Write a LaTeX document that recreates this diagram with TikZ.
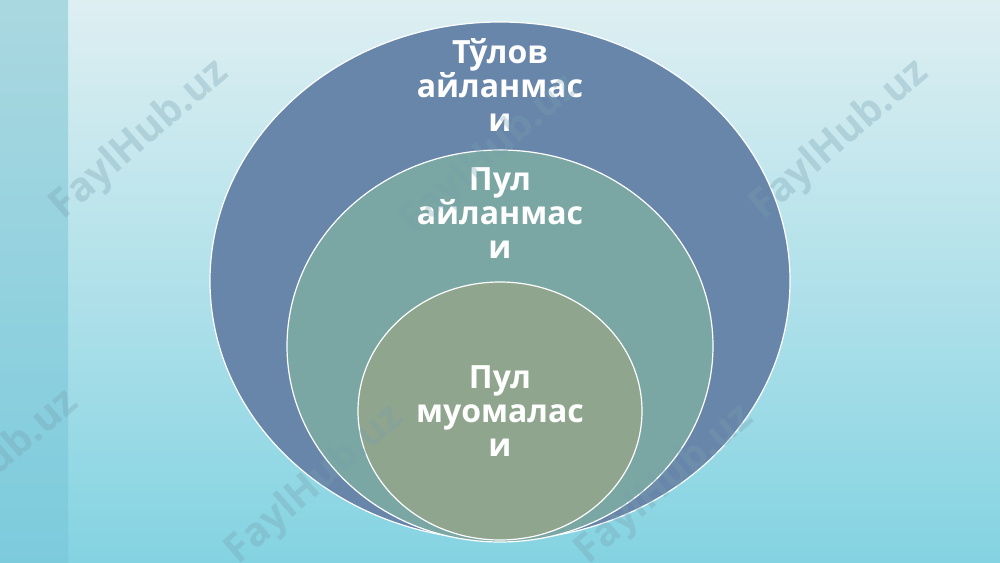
\documentclass[tikz,border=0pt]{standalone}
\usepackage{fontspec}
\setmainfont{Open Sans}

\definecolor{bgtop}{RGB}{222,239,242}
\definecolor{bgbot}{RGB}{132,211,226}
\definecolor{striptop}{RGB}{170,216,224}
\definecolor{stripbot}{RGB}{124,203,221}
\definecolor{outerfill}{RGB}{104,134,170}
\definecolor{midfill}{RGB}{122,167,163}
\definecolor{innerfill}{RGB}{143,165,142}
\definecolor{wmark}{RGB}{120,160,175}

\tikzset{every picture/.style={line width=0.75pt}}
\tikzset{
  ring/.style={draw=white, line width=0.9pt},
  label/.style={inner sep=0.75pt, align=center, text=white,
    font=\bfseries\fontsize{24}{25.5}\selectfont},
  wm/.style={rotate=41, text=wmark, opacity=0.32,
    font=\bfseries\fontsize{30}{30}\selectfont}
}

\begin{document}
\begin{tikzpicture}[x=0.75pt,y=0.75pt,yscale=-1,xscale=1]
\useasboundingbox (0,0) rectangle (1000,563);

%Background
\shade [top color=bgtop, bottom color=bgbot] (0,0) rectangle (1000,563);
%Left strip
\shade [top color=striptop, bottom color=stripbot] (0,0) rectangle (68,563);

%Shape: Ellipse [outer]
\draw [ring, fill=outerfill] (500,281) ellipse (290 and 259);
%Shape: Ellipse [middle]
\draw [ring, fill=midfill] (500,346) ellipse (213 and 196);
%Shape: Ellipse [inner]
\draw [ring, fill=innerfill] (500,411) ellipse (142 and 129);

% Text Node
\node [label] (tulov) at (500,85) {Тўлов\\айланмас\\и};
% Text Node
\node [label] (puladv) at (500,213) {Пул\\айланмас\\и};
% Text Node
\node [label] (pulmuom) at (500,411) {Пул\\муомалас\\и};

% Watermarks
\node [wm] (wma) at (140,140) {FaylHub.uz};
\node [wm] (wmb) at (490,155) {FaylHub.uz};
\node [wm] (wmc) at (840,140) {FaylHub.uz};
\node [wm] (wmd) at (-10,470) {FaylHub.uz};
\node [wm] (wme) at (315,485) {FaylHub.uz};
\node [wm] (wmf) at (665,485) {FaylHub.uz};

\end{tikzpicture}
\end{document}
